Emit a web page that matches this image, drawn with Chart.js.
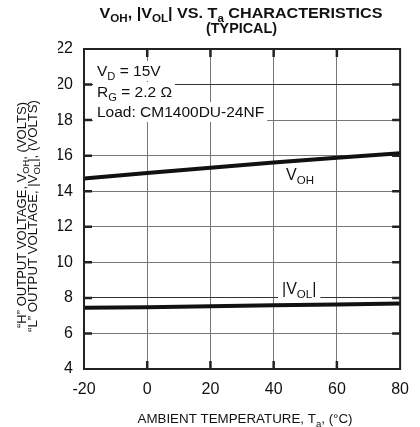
<!DOCTYPE html>
<html>
<head>
<meta charset="utf-8">
<script src="https://cdn.jsdelivr.net/npm/chart.js@4.4.0/dist/chart.umd.min.js"></script>
<style>
  html, body { margin: 0; padding: 0; background: #fff; }
</style>
</head>
<body>
<canvas id="chart" width="420" height="427"></canvas>
<script>
// значения
const temps = [-20, 0, 20, 40, 60, 80];
const vOH = [14.72, 15.02, 15.32, 15.62, 15.88, 16.13];
const vOL = [7.44, 7.48, 7.53, 7.58, 7.63, 7.68];
const xTickValues = [-20, 0, 20, 40, 60, 80];
const yTickValues = [4, 6, 8, 10, 12, 14, 16, 18, 20, 22];

const FONT = '"Liberation Sans", Arial, Helvetica, sans-serif';

// текст с подстрочными индексами: [['V', false], ['OH', true], ...]
function setFont(ctx, size, bold) {
    ctx.font = (bold ? 'bold ' : '') + size + 'px ' + FONT;
}

function runsWidth(ctx, runs, size, bold) {
    let w = 0;
    runs.forEach(r => {
        setFont(ctx, r[1] ? size * 0.72 : size, bold);
        w += ctx.measureText(r[0]).width;
    });
    return w;
}

function drawRuns(ctx, runs, x, y, size, bold, align) {
    const w = runsWidth(ctx, runs, size, bold);
    let cx = x;
    if (align === 'center') cx = x - w / 2;
    if (align === 'right') cx = x - w;
    ctx.textAlign = 'left';
    ctx.textBaseline = 'alphabetic';
    runs.forEach(r => {
        const s = r[1] ? size * 0.72 : size;
        setFont(ctx, s, bold);
        ctx.fillText(r[0], cx, r[1] ? y + size * 0.28 : y);
        cx += ctx.measureText(r[0]).width;
    });
    return w;
}

// текст, растянутый/сжатый по ширине до заданной длины
function drawFitted(ctx, runs, x, y, size, bold, targetW) {
    const w = runsWidth(ctx, runs, size, bold);
    ctx.save();
    ctx.translate(x, y);
    ctx.scale(targetW / w, 1);
    drawRuns(ctx, runs, 0, 0, size, bold, 'center');
    ctx.restore();
}

// вертикальная подпись, конец текста в точке (x, yEnd)
function drawVertical(ctx, runs, x, yEnd, size, targetW) {
    const w = runsWidth(ctx, runs, size, false);
    ctx.save();
    ctx.translate(x, yEnd);
    ctx.rotate(-Math.PI / 2);
    ctx.scale(targetW / w, 1);
    drawRuns(ctx, runs, 0, 0, size, false, 'right');
    ctx.restore();
}

const notes = [
    { runs: [['V', false], ['D', true], [' = 15V', false]], x: 97, y: 76 },
    { runs: [['R', false], ['G', true], [' = 2.2 \u03A9', false]], x: 97, y: 97 },
    { runs: [['Load: CM1400DU-24NF', false]], x: 97, y: 117 }
];
const NOTE_SIZE = 15.5;
const vohLabel = { runs: [['V', false], ['OH', true]], x: 286, y: 180 };
const volLabel = { runs: [['|V', false], ['OL', true], ['|', false]], x: 282, y: 294 };

const decorPlugin = {
    id: 'decor',
    beforeDatasetsDraw(chart) {
        const ctx = chart.ctx;
        ctx.save();
        ctx.fillStyle = '#fff';
        notes.forEach(n => {
            const w = runsWidth(ctx, n.runs, NOTE_SIZE, false);
            ctx.fillRect(n.x - 4, n.y - 15, w + 7, 20);
        });
        const w = runsWidth(ctx, volLabel.runs, 16, false);
        ctx.fillRect(volLabel.x - 4, volLabel.y - 14, w + 8, 19);
        ctx.restore();
    },
    afterDatasetsDraw(chart) {
        const ctx = chart.ctx;
        const a = chart.chartArea;
        const xs = chart.scales.x, ys = chart.scales.y;
        ctx.save();

        // рамка
        ctx.strokeStyle = '#222';
        ctx.lineWidth = 2;
        ctx.strokeRect(a.left, a.top, a.right - a.left, a.bottom - a.top);

        // внутренние засечки
        ctx.lineWidth = 2.5;
        ctx.beginPath();
        yTickValues.slice(1, -1).forEach(v => {
            const py = ys.getPixelForValue(v);
            ctx.moveTo(a.left, py); ctx.lineTo(a.left + 8, py);
            ctx.moveTo(a.right - 8, py); ctx.lineTo(a.right, py);
        });
        xTickValues.slice(1, -1).forEach(v => {
            const px = xs.getPixelForValue(v);
            ctx.moveTo(px, a.bottom); ctx.lineTo(px, a.bottom - 8);
            ctx.moveTo(px, a.top); ctx.lineTo(px, a.top + 8);
        });
        ctx.stroke();

        ctx.fillStyle = '#111';
        notes.forEach(n => drawRuns(ctx, n.runs, n.x, n.y, NOTE_SIZE, false));
        drawRuns(ctx, vohLabel.runs, vohLabel.x, vohLabel.y, 16, false);
        drawRuns(ctx, volLabel.runs, volLabel.x, volLabel.y, 16, false);

        // заголовок
        drawFitted(ctx, [['V', false], ['OH', true], [', |V', false], ['OL', true],
            ['| VS. T', false], ['a', true], [' CHARACTERISTICS', false]], 241, 18, 14, true, 283);
        drawFitted(ctx, [['(TYPICAL)', false]], 241.5, 33, 14, true, 71);

        // подписи осей
        drawVertical(ctx, [['\u201CH\u201D OUTPUT VOLTAGE, V', false], ['OH', true], [', (VOLTS)', false]],
            26, 102, 12, 226);
        drawVertical(ctx, [['\u201CL\u201D OUTPUT VOLTAGE, |V', false], ['OL', true], ['|, (VOLTS)', false]],
            37, 100, 12, 232);
        drawFitted(ctx, [['AMBIENT TEMPERATURE, T', false], ['a', true], [', (\u00B0C)', false]],
            245, 423, 12.5, false, 215);
        ctx.restore();
    }
};

const ctx = document.getElementById('chart').getContext('2d');
new Chart(ctx, {
    type: 'line',
    data: {
        datasets: [
            {
                label: 'VOH',
                data: temps.map((t, i) => ({ x: t, y: vOH[i] })),
                borderColor: '#111',
                borderWidth: 4,
                pointRadius: 0,
                tension: 0
            },
            {
                label: '|VOL|',
                data: temps.map((t, i) => ({ x: t, y: vOL[i] })),
                borderColor: '#111',
                borderWidth: 4,
                pointRadius: 0,
                tension: 0
            }
        ]
    },
    options: {
        responsive: false,
        animation: false,
        layout: {
            padding: { left: 58, top: 49, right: 16, bottom: 0 }
        },
        scales: {
            x: {
                type: 'linear',
                min: -20,
                max: 80,
                afterBuildTicks: s => { s.ticks = xTickValues.map(v => ({ value: v })); },
                afterFit: s => { s.height = 58; },
                grid: {
                    color: '#777',
                    lineWidth: 1,
                    drawTicks: false
                },
                border: { display: false },
                ticks: {
                    color: '#111',
                    padding: 11,
                    font: { family: FONT, size: 16 }
                }
            },
            y: {
                min: 4,
                max: 22,
                afterBuildTicks: s => { s.ticks = yTickValues.map(v => ({ value: v })); },
                afterFit: s => { s.width = 26; },
                grid: {
                    color: c => (c.tick && (c.tick.value === 20 || c.tick.value === 8)) ? '#333' : '#777',
                    lineWidth: 1,
                    drawTicks: false
                },
                border: { display: false },
                ticks: {
                    color: '#111',
                    padding: 11,
                    font: { family: FONT, size: 16 }
                }
            }
        },
        plugins: {
            legend: { display: false },
            title: { display: false },
            tooltip: { enabled: false }
        }
    },
    plugins: [decorPlugin]
});
</script>
</body>
</html>
